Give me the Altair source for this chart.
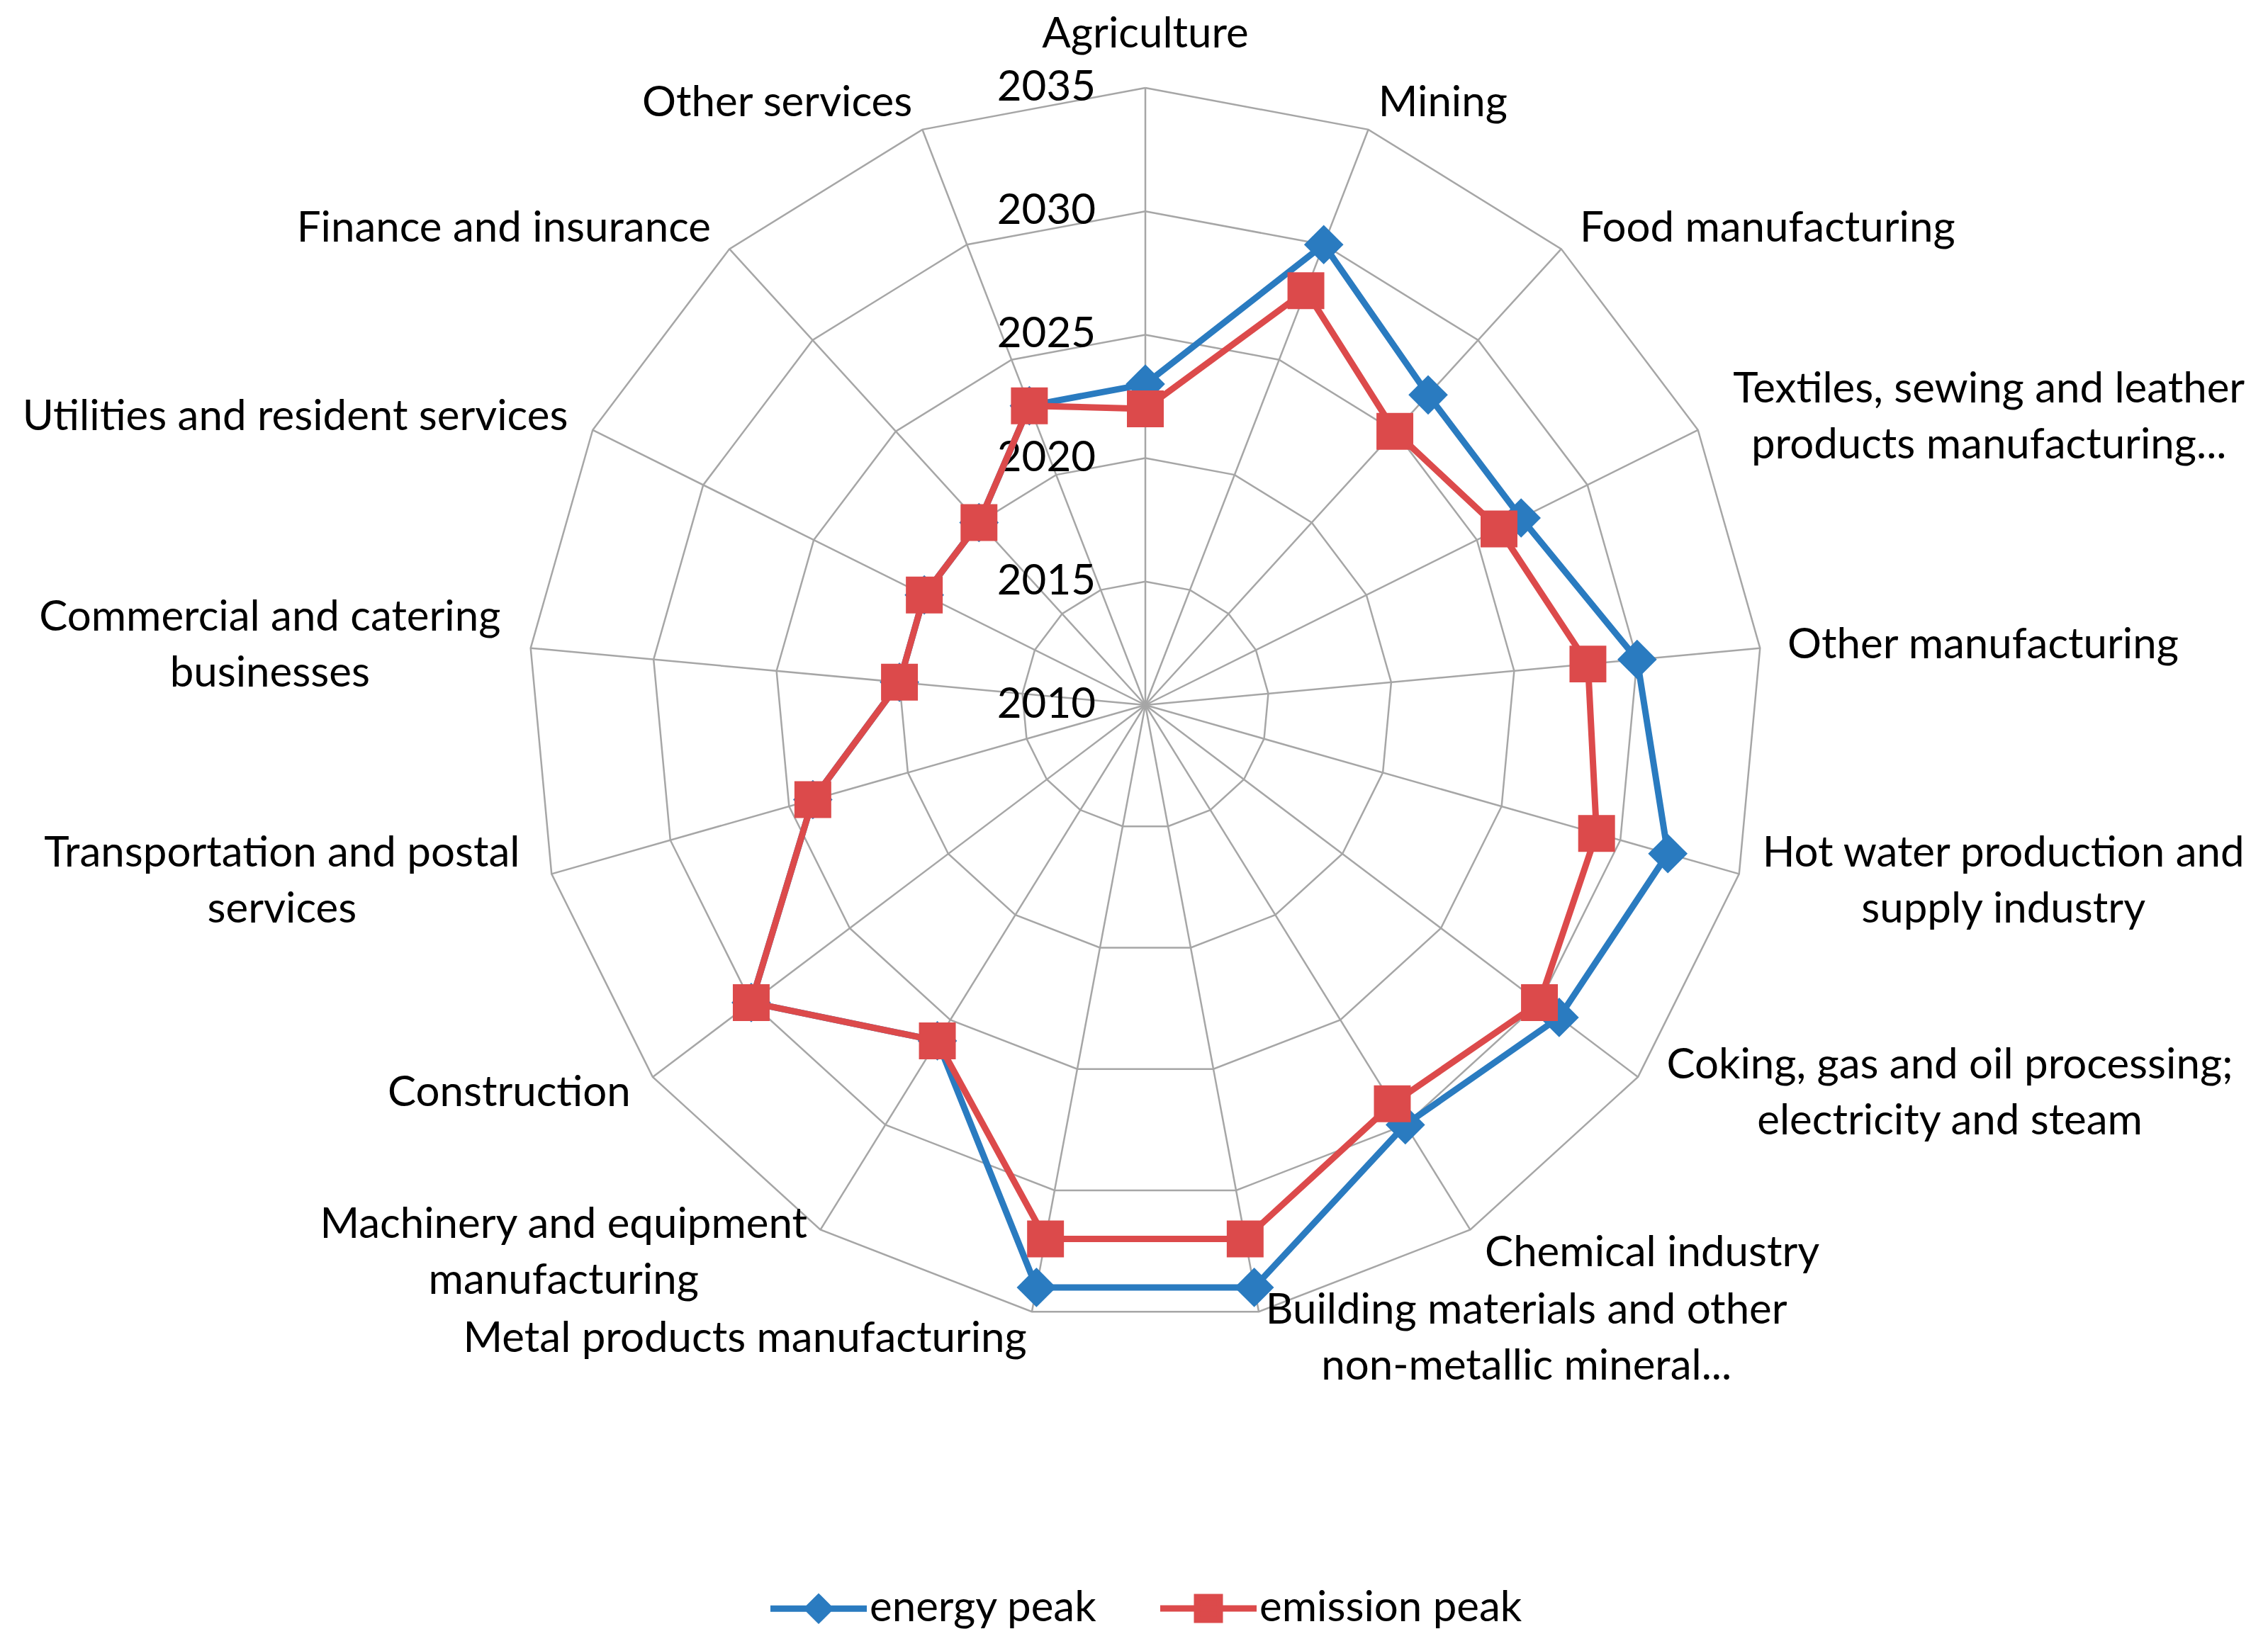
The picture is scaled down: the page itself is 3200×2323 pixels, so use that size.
import math
import altair as alt
import pandas as pd

# ---------------- data ----------------
categories = [
    "Agriculture",
    "Mining",
    "Food manufacturing",
    "Textiles, sewing and leather\nproducts manufacturing...",
    "Other manufacturing",
    "Hot water production and\nsupply industry",
    "Coking, gas and oil processing;\nelectricity and steam",
    "Chemical industry",
    "Building materials and other\nnon-metallic mineral...",
    "Metal products manufacturing",
    "Machinery and equipment\nmanufacturing",
    "Construction",
    "Transportation and postal\nservices",
    "Commercial and catering\nbusinesses",
    "Utilities and resident services",
    "Finance and insurance",
    "Other services",
]
energy_peak = [2023, 2030, 2027, 2027, 2030, 2032, 2031, 2030, 2034,
               2034, 2026, 2030, 2024, 2020, 2020, 2020, 2023]
emission_peak = [2022, 2028, 2025, 2026, 2028, 2029, 2030, 2029, 2032,
                 2032, 2026, 2030, 2024, 2020, 2020, 2020, 2023]
tick_years = [2010, 2015, 2020, 2025, 2030, 2035]
series_names = ["energy peak", "emission peak"]
series_colors = ["#2A7BC0", "#DC4A4B"]

# ---------------- layout ----------------
FONT = "Lato"
FS = 60
LH = 79
W, H = 3184, 2307
K = 34.84            # pixels per year on the radial axis
CX, CY = 1608, 987   # centre of the radar in plot pixels
BASE = tick_years[0]
RMAX = tick_years[-1] - BASE
n = len(categories)

xs = alt.Scale(domain=[-CX / K, (W - CX) / K], nice=False, zero=False)
ys = alt.Scale(domain=[-(H - CY) / K, CY / K], nice=False, zero=False)


def ang(i):
    return 2 * math.pi * i / n


ring_rows = []
for lv in tick_years[1:]:
    for i in range(n + 1):
        a = ang(i)
        r = lv - BASE
        ring_rows.append({"level": lv, "idx": i, "x": r * math.sin(a), "y": r * math.cos(a)})
rings = pd.DataFrame(ring_rows)

spokes = pd.DataFrame([
    {"cat": categories[i], "x0": 0.0, "y0": 0.0,
     "x1": RMAX * math.sin(ang(i)), "y1": RMAX * math.cos(ang(i))}
    for i in range(n)
])

ser_rows = []
for name, vals in zip(series_names, [energy_peak, emission_peak]):
    for i in range(n + 1):
        v = vals[i % n]
        a = ang(i)
        r = v - BASE
        ser_rows.append({"series": name, "idx": i, "value": v,
                         "x": r * math.sin(a), "y": r * math.cos(a)})
ser = pd.DataFrame(ser_rows)

ticks = pd.DataFrame({"label": [str(t) for t in tick_years],
                      "r": [float(t - BASE) for t in tick_years],
                      "zero": [0.0] * len(tick_years)})


def est_width(s):
    w = 0.0
    for ch in s:
        if ch in "il.,;:!|'":
            w += 0.25
        elif ch in "fjrt":
            w += 0.36
        elif ch == " ":
            w += 0.26
        elif ch in "mw":
            w += 0.80
        elif ch in "MW":
            w += 0.90
        elif ch == "-":
            w += 0.33
        elif ch.isupper():
            w += 0.66
        else:
            w += 0.53
    return w * FS


GAP = 39 / K
lab_rows = []
for i, cat in enumerate(categories):
    a = ang(i)
    s, c = math.sin(a), math.cos(a)
    vx, vy = RMAX * s, RMAX * c
    if abs(s) < 0.05:
        lab_rows.append({"text": cat, "x": 0.0, "y": vy + 57 / K, "kind": "top"})
        continue
    ax, ay = vx + GAP * s, vy + GAP * c
    lines = cat.split("\n")
    if len(lines) > 1:
        bw = max(est_width(l) for l in lines)
        lab_rows.append({"text": cat, "x": ax + (1 if s > 0 else -1) * bw / 2 / K,
                         "y": ay + (len(lines) - 1) * LH / 2 / K, "kind": "center"})
    else:
        lab_rows.append({"text": cat, "x": ax, "y": ay, "kind": "left" if s > 0 else "right"})
labels = pd.DataFrame(lab_rows)

# ---------------- chart ----------------
def X(f):
    return alt.X(f, type="quantitative", scale=xs, axis=None)


def Y(f):
    return alt.Y(f, type="quantitative", scale=ys, axis=None)


grid_color = "#A6A6A6"
ring_layer = alt.Chart(rings).mark_line(color=grid_color, strokeWidth=2.5).encode(
    x=X("x"), y=Y("y"), detail="level:N", order="idx:Q")
spoke_layer = alt.Chart(spokes).mark_rule(color=grid_color, strokeWidth=2.5).encode(
    x=X("x0"), y=Y("y0"), x2="x1", y2="y1")

tick_layer = alt.Chart(ticks).mark_text(
    align="right", baseline="middle", dx=-70, font=FONT, fontSize=FS, color="#000000"
).encode(x=X("zero"), y=Y("r"), text="label:N")

layers = [ring_layer, spoke_layer, tick_layer]

marker = {"energy peak": ("diamond", 3100), "emission peak": ("square", 2700)}
for name, col in zip(series_names, series_colors):
    d = ser[ser["series"] == name]
    layers.append(alt.Chart(d).mark_line(color=col, strokeWidth=9).encode(
        x=X("x"), y=Y("y"), order="idx:Q"))
    shp, sz = marker[name]
    layers.append(alt.Chart(d[d["idx"] < n]).mark_point(
        shape=shp, size=sz, filled=True, color=col, opacity=1).encode(
        x=X("x"), y=Y("y")))

for kind, al, bl in [("top", "center", "alphabetic"), ("left", "left", "middle"),
                     ("right", "right", "middle"), ("center", "center", "middle")]:
    d = labels[labels["kind"] == kind]
    layers.append(alt.Chart(d).mark_text(
        align=al, baseline=bl, font=FONT, fontSize=FS, lineBreak="\n", lineHeight=LH,
        color="#000000").encode(x=X("x"), y=Y("y"), text="text:N"))

# legend built from the series scales
leg_paths = [
    "M-2.72,0H2.72M0,-0.62L0.62,0L0,0.62L-0.62,0Z",
    "M-2.72,0H2.72M-0.64,-0.64H0.64V0.64H-0.64Z",
]
cscale = alt.Scale(domain=series_names, range=series_colors)
sscale = alt.Scale(domain=series_names, range=leg_paths)
leg = alt.Legend(title=None, orient="none", legendX=1117, legendY=2232, direction="horizontal",
                 symbolSize=2500, symbolStrokeWidth=9, labelFont=FONT, labelFontSize=FS,
                 labelColor="#000000", labelOffset=42, labelLimit=0, columnPadding=70,
                 padding=0, symbolOpacity=1)
legend_layer = alt.Chart(ser[ser["idx"] < n]).mark_point(filled=True, opacity=0).encode(
    x=X("x"), y=Y("y"),
    fill=alt.Fill("series:N", scale=cscale, legend=leg),
    stroke=alt.Stroke("series:N", scale=cscale, legend=leg),
    shape=alt.Shape("series:N", scale=sscale, legend=leg),
)
layers.append(legend_layer)

chart = alt.layer(*layers).properties(
    width=W, height=H, autosize=alt.AutoSizeParams(type="none"), padding=0,
    background="white"
).configure_view(stroke=None)

chart.save("out.html", embed_options={"renderer": "svg", "actions": False})
